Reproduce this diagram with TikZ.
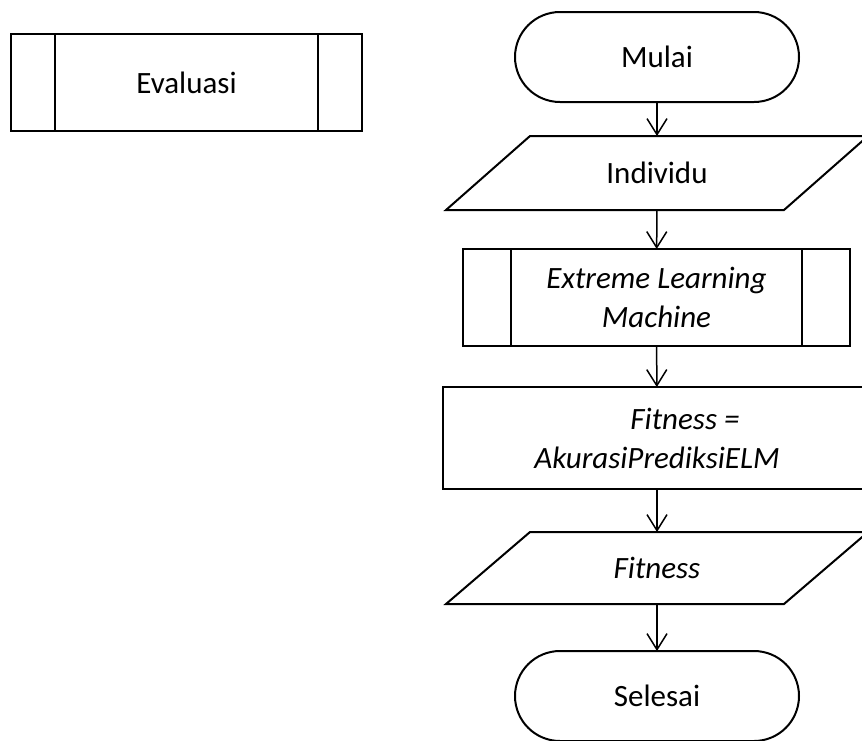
\documentclass[tikz,border=0pt]{standalone}
\usepackage{fontspec}
\setmainfont{Carlito}
\usetikzlibrary{arrows.meta,calc}
\begin{document}
\begin{tikzpicture}[x=1pt,y=-1pt,
  base/.style={inner sep=0pt, outer sep=0pt, align=center,
    font=\fontsize{31}{39}\selectfont, line width=2pt},
  terminal/.style={base, draw, rounded corners=45pt,
    minimum width=284pt, minimum height=90pt},
  subproc/.style={base, draw, minimum height=97pt},
  process/.style={base, draw, minimum width=428pt, minimum height=102pt},
  iobox/.style={base, minimum width=338pt},
  outline/.style={line width=2pt, line join=miter},
  flow/.style={line width=1.5pt,
    -{Straight Barb[length=16pt,width=20pt,line width=1.5pt]}}]

\useasboundingbox (0,0) rectangle (862,740);
\clip (0,0) rectangle (862,740);

% legend: predefined-process symbol
\node[subproc, minimum width=351pt] (eval) at (186.5,82.5) {Evaluasi};
\draw[outline] ($(eval.north west)+(44,0)$) -- ($(eval.south west)+(44,0)$);
\draw[outline] ($(eval.north east)+(-44,0)$) -- ($(eval.south east)+(-44,0)$);

% main flow
\node[terminal] (start) at (657,57) {Mulai};

\node[iobox, minimum height=74pt] (ind) at (657,173) {Individu};
\draw[outline] ($(ind.north west)+(42,0)$) -- ($(ind.north east)+(42,0)$)
  -- ($(ind.south east)+(-42,0)$) -- ($(ind.south west)+(-42,0)$) -- cycle;

\node[subproc, minimum width=387pt] (elm) at (656.5,297.5)
  {\itshape Extreme Learning\\\itshape Machine};
\draw[outline] ($(elm.north west)+(48,0)$) -- ($(elm.south west)+(48,0)$);
\draw[outline] ($(elm.north east)+(-48,0)$) -- ($(elm.south east)+(-48,0)$);

\node[process] (fit) at (657,438)
  {\hspace*{56pt}\itshape Fitness =\\\itshape AkurasiPrediksiELM};

\node[iobox, minimum height=72pt] (out) at (657,568) {\itshape Fitness};
\draw[outline] ($(out.north west)+(42,0)$) -- ($(out.north east)+(42,0)$)
  -- ($(out.south east)+(-42,0)$) -- ($(out.south west)+(-42,0)$) -- cycle;

\node[terminal] (stop) at (657,696) {Selesai};

\draw[flow] (start) -- (ind);
\draw[flow] (ind) -- (elm);
\draw[flow] (elm) -- (fit);
\draw[flow] (fit) -- (out);
\draw[flow] (out) -- (stop);
\end{tikzpicture}
\end{document}
